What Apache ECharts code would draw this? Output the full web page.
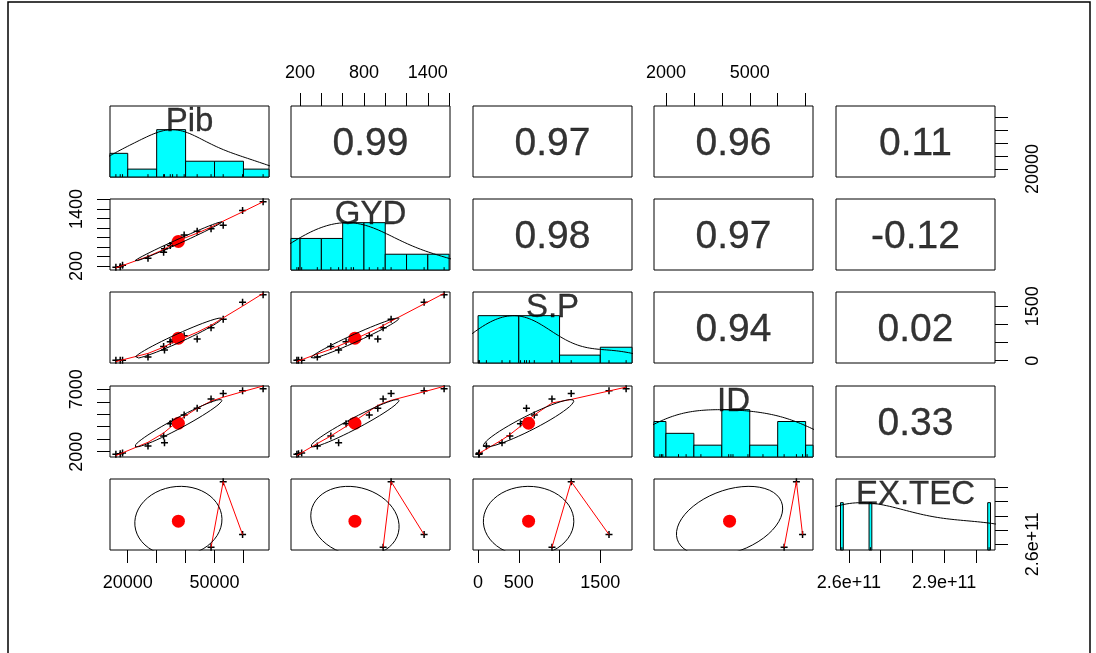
<!DOCTYPE html>
<html>
<head>
<meta charset="utf-8">
<script src="https://cdn.jsdelivr.net/npm/echarts@6/dist/echarts.min.js"></script>
<style>
  html, body { margin: 0; padding: 0; background: #fff; }
  #chart { width: 1096px; height: 653px; }
</style>
</head>
<body>
<div id="chart"></div>
<script>
// ---- data: one value per observation (null = missing) ----
const varNames = ['Pib', 'GYD', 'S.P', 'ID', 'EX.TEC'];
const pib   = [15900, 17400, 18200, 27000, 32400, 32700, 34700, 35500, 37000, 39500, 44000, 48800, 53000, 59700, 66800];
const gyd   = [170, 185, 215, 362, 489, 562, 632, 680, 702, 850, 930, 980, 1055, 1365, 1553];
const sp    = [10, 12, 15, 102, 390, 294, 520, 570, 630, 690, 594, 907, 1143, 1607, 1817];
const idv   = [1783, 1840, 1888, 2449, 3251, 2722, 4246, 4400, 4326, 4935, 5473, 6230, 6670, 6890, 7053];
const exTec = [null, null, null, null, null, null, null, null, null, null, null, 2.578e11, 3.042e11, 2.668e11, null];

// correlation labels for the upper panels, keyed "row-col"
const corrLabels = {
  '0-1': '0.99', '0-2': '0.97', '0-3': '0.96', '0-4': '0.11',
  '1-2': '0.98', '1-3': '0.97', '1-4': '-0.12',
  '2-3': '0.94', '2-4': '0.02',
  '3-4': '0.33'
};

// histogram bin edges (EX.TEC has few distinct values and is drawn as a table)
const pibBreaks = [10000, 20000, 30000, 40000, 50000, 60000, 70000];
const gydBreaks = [0, 200, 400, 600, 800, 1000, 1200, 1400, 1600];
const spBreaks  = [0, 500, 1000, 1500, 2000];
const idBreaks  = [1000, 2000, 3000, 4000, 5000, 6000, 7000, 8000];

// axis ticks and the labels printed on each side
const pibTicks = [20000, 30000, 40000, 50000, 60000];
const gydTicks = [200, 400, 600, 800, 1000, 1200, 1400, 1600];
const spTicks  = [0, 500, 1000, 1500];
const idTicks  = [2000, 3000, 4000, 5000, 6000, 7000];
const exTicks  = [2.6e11, 2.7e11, 2.8e11, 2.9e11, 3.0e11];
const pibLabels = { bottom: [20000, 50000], right: [20000] };
const gydLabels = { top: [200, 800, 1400], left: [200, 1400] };
const spLabels  = { bottom: [0, 500, 1500], right: [0, 1500] };
const idLabels  = { top: [2000, 5000], left: [2000, 7000] };
const exLabels  = { bottom: [2.6e11, 2.9e11], right: [2.6e11] };

// ---- layout ----
const FONT = '"Liberation Sans", Arial, Helvetica, sans-serif';
const colLeft = [110, 291, 473, 654, 836];
const rowTop = [106, 199, 292, 386, 479];
const panelW = 159, panelH = 71;
const labelMargin = { top: 24, bottom: 24, left: 24, right: 29 };

const vars = [pib, gyd, sp, idv, exTec];
const breaks = [pibBreaks, gydBreaks, spBreaks, idBreaks, null];
const tickVals = [pibTicks, gydTicks, spTicks, idTicks, exTicks];
const labelVals = [pibLabels, gydLabels, spLabels, idLabels, exLabels];
const fmt = [
  v => String(v), v => String(v), v => String(v), v => String(v),
  v => (v / 1e11).toFixed(1) + 'e+11'
];

// ---- statistics helpers ----
const valid = a => a.filter(v => v != null);
const mean = a => a.reduce((s, v) => s + v, 0) / a.length;
const sdev = a => { const m = mean(a); return Math.sqrt(a.reduce((s, v) => s + (v - m) * (v - m), 0) / (a.length - 1)); };
function pairsOf(xa, ya) {
  const out = [];
  xa.forEach((v, i) => { if (v != null && ya[i] != null) out.push([v, ya[i]]); });
  return out;
}
function corr(p) {
  const mx = mean(p.map(d => d[0])), my = mean(p.map(d => d[1]));
  let sxy = 0, sxx = 0, syy = 0;
  p.forEach(([a, b]) => { sxy += (a - mx) * (b - my); sxx += (a - mx) ** 2; syy += (b - my) ** 2; });
  return sxy / Math.sqrt(sxx * syy);
}
function quantile7(s, p) {
  const h = (s.length - 1) * p, lo = Math.floor(h);
  const hi = Math.min(lo + 1, s.length - 1);
  return s[lo] + (h - lo) * (s[hi] - s[lo]);
}
// gaussian kernel density, bw = nrd * 1.2, scaled so the peak is 1
function densityCurve(vals) {
  const n = vals.length, s = [...vals].sort((a, b) => a - b);
  const iqr = (quantile7(s, 0.75) - quantile7(s, 0.25)) / 1.34;
  const bw = 1.06 * Math.min(sdev(s), iqr) * Math.pow(n, -0.2) * 1.2;
  const lo = s[0] - 3 * bw, hi = s[n - 1] + 3 * bw, m = 512;
  const pts = [];
  for (let k = 0; k < m; k++) {
    const x = lo + (hi - lo) * k / (m - 1);
    let d = 0;
    s.forEach(v => { const z = (x - v) / bw; d += Math.exp(-0.5 * z * z); });
    pts.push([x, d]);
  }
  const mx = Math.max(...pts.map(p => p[1]));
  return pts.map(p => [p[0], p[1] / mx]);
}
// robust locally weighted regression (Cleveland's lowess)
function lowess(p, f = 2 / 3, nsteps = 3) {
  const srt = [...p].sort((a, b) => a[0] - b[0]);
  const n = srt.length;
  const x = [0], y = [0];
  srt.forEach(d => { x.push(d[0]); y.push(d[1]); });
  if (n < 2) return [[x[1], y[1]]];
  const ys = new Array(n + 1).fill(0), rw = new Array(n + 1).fill(1), w = new Array(n + 1).fill(0);
  const delta = 0.01 * (x[n] - x[1]);
  const ns = Math.max(2, Math.min(n, Math.floor(f * n + 1e-7)));
  function lowest(xs, nleft, nright, userw) {
    const range = x[n] - x[1];
    const h = Math.max(xs - x[nleft], x[nright] - xs);
    const h9 = 0.999 * h, h1 = 0.001 * h;
    let a = 0, j = nleft;
    while (j <= n) {
      w[j] = 0;
      const r = Math.abs(x[j] - xs);
      if (r <= h9) {
        w[j] = r <= h1 ? 1 : Math.pow(1 - Math.pow(r / h, 3), 3);
        if (userw) w[j] *= rw[j];
        a += w[j];
      } else if (x[j] > xs) break;
      j++;
    }
    const nrt = j - 1;
    if (a <= 0) return null;
    for (j = nleft; j <= nrt; j++) w[j] /= a;
    if (h > 0) {
      a = 0;
      for (j = nleft; j <= nrt; j++) a += w[j] * x[j];
      let b = xs - a, c = 0;
      for (j = nleft; j <= nrt; j++) c += w[j] * (x[j] - a) * (x[j] - a);
      if (Math.sqrt(c) > 0.001 * range) {
        b /= c;
        for (j = nleft; j <= nrt; j++) w[j] *= (b * (x[j] - a) + 1);
      }
    }
    let out = 0;
    for (j = nleft; j <= nrt; j++) out += w[j] * y[j];
    return out;
  }
  let iter = 1;
  while (iter <= nsteps + 1) {
    let nleft = 1, nright = ns, last = 0, i = 1;
    for (;;) {
      if (nright < n) {
        const d1 = x[i] - x[nleft], d2 = x[nright + 1] - x[i];
        if (d1 > d2) { nleft++; nright++; continue; }
      }
      const v = lowest(x[i], nleft, nright, iter > 1);
      ys[i] = v === null ? y[i] : v;
      if (last < i - 1) {
        const denom = x[i] - x[last];
        for (let j = last + 1; j < i; j++) {
          const alpha = (x[j] - x[last]) / denom;
          ys[j] = alpha * ys[i] + (1 - alpha) * ys[last];
        }
      }
      last = i;
      const cut = x[last] + delta;
      for (i = last + 1; i <= n; i++) {
        if (x[i] > cut) break;
        if (x[i] === x[last]) { ys[i] = ys[last]; last = i; }
      }
      i = Math.max(last + 1, i - 1);
      if (last >= n) break;
    }
    const resid = [];
    for (let k = 1; k <= n; k++) resid.push(y[k] - ys[k]);
    const sc = resid.reduce((s, r) => s + Math.abs(r), 0) / n;
    if (iter > nsteps) break;
    const sorted = resid.map(Math.abs).sort((a, b) => a - b);
    const m1 = Math.floor(n / 2);
    const cmad = n % 2 === 0 ? 3 * (sorted[m1] + sorted[n - m1 - 1]) : 6 * sorted[m1];
    if (cmad < 1e-7 * sc) break;
    const c9 = 0.999 * cmad, c1 = 0.001 * cmad;
    for (let k = 0; k < n; k++) {
      const r = Math.abs(resid[k]);
      rw[k + 1] = r <= c1 ? 1 : (r <= c9 ? Math.pow(1 - Math.pow(r / cmad, 2), 2) : 0);
    }
    iter++;
  }
  return x.slice(1).map((xv, k) => [xv, ys[k + 1]]);
}
// correlation ellipse around the means, one sd wide
function ellipse(xm, ym, xs, ys, r) {
  const t = r !== 0 ? Math.sign(r) / Math.SQRT2 : 1 / Math.SQRT2;
  const a = Math.sqrt(1 + r), b = Math.sqrt(1 - r);
  const pts = [], seg = 51;
  for (let k = 0; k <= seg; k++) {
    const ang = k * 2 * Math.PI / seg, c = Math.cos(ang), s = Math.sin(ang);
    pts.push([(c * a * t - s * b * t) * xs + xm, (c * a * t + s * b * t) * ys + ym]);
  }
  return pts;
}
// plotting range: data range widened by 4% on each side
const usr = vars.map(v => {
  const a = valid(v), mn = Math.min(...a), mx = Math.max(...a), r = mx - mn;
  return [mn - 0.04 * r, mx + 0.04 * r];
});

// ---- build the option ----
const grids = [], xAxes = [], yAxes = [], series = [];
const histY = [];
const plusSymbol = 'path://M0,2.75h7v1.5h-7zM2.75,0h1.5v7h-1.5z';

function axisCfg(k, v, side, horizontal) {
  const base = {
    gridIndex: k, type: 'value', min: usr[v][0], max: usr[v][1],
    splitLine: { show: false }, axisLine: { show: false }
  };
  if (!side) return Object.assign(base, { show: false });
  return Object.assign(base, {
    position: side,
    axisTick: { show: true, inside: false, length: 13, customValues: tickVals[v], lineStyle: { color: '#000', width: 1 } },
    axisLabel: {
      show: true, customValues: labelVals[v][side], formatter: fmt[v],
      fontSize: 18, fontFamily: FONT, color: '#000', margin: labelMargin[side],
      rotate: horizontal ? 0 : 90
    }
  });
}

for (let i = 0; i < 5; i++) {
  for (let j = 0; j < 5; j++) {
    const k = i * 5 + j;
    grids.push({
      left: colLeft[j], top: rowTop[i], width: panelW, height: panelH,
      show: true, borderColor: '#000', borderWidth: 1, backgroundColor: 'transparent'
    });
    let xSide = null, ySide = null;
    if (i === 0 && j % 2 === 1) xSide = 'top';
    if (i === 4 && j % 2 === 0) xSide = 'bottom';
    if (j === 4 && i % 2 === 0) ySide = 'right';
    if (j === 0 && i % 2 === 1) ySide = 'left';
    xAxes.push(axisCfg(k, j, xSide, true));
    yAxes.push(axisCfg(k, i, ySide, false));
  }
}
// extra vertical axes (0..1.5) for the histograms on the diagonal
for (let d = 0; d < 5; d++) {
  yAxes.push({ gridIndex: d * 6, type: 'value', min: 0, max: 1.5, show: false });
  histY.push(25 + d);
}

const histRender = (params, api) => {
  const p0 = api.coord([api.value(0), 0]);
  const p1 = api.coord([api.value(1), api.value(2)]);
  const cs = params.coordSys;
  const r = echarts.graphic.clipRectByRect(
    { x: p0[0], y: p1[1], width: p1[0] - p0[0], height: p0[1] - p1[1] },
    { x: cs.x, y: cs.y, width: cs.width, height: cs.height }
  );
  if (!r) return null;
  return { type: 'rect', shape: r, style: { fill: '#00FFFF', stroke: '#000', lineWidth: 1 } };
};
const rugRender = (params, api) => {
  const a = api.coord([api.value(0), 0]);
  const b = api.coord([api.value(0), 0.06]);
  return { type: 'line', shape: { x1: a[0], y1: a[1], x2: b[0], y2: b[1] }, style: { stroke: '#000', lineWidth: 1 } };
};

const textStyle = (size) => ({ fontSize: size, fontFamily: FONT, color: '#000', textBorderColor: '#000', textBorderWidth: 0.3 });

for (let i = 0; i < 5; i++) {
  for (let j = 0; j < 5; j++) {
    const k = i * 5 + j;
    if (i === j) {
      const vals = valid(vars[i]);
      let bars = [];
      if (breaks[i]) {
        const br = breaks[i], counts = new Array(br.length - 1).fill(0);
        vals.forEach(v => {
          for (let b = 0; b < br.length - 1; b++) {
            if ((v > br[b] || (b === 0 && v >= br[b])) && v <= br[b + 1]) { counts[b]++; break; }
          }
        });
        const mx = Math.max(...counts);
        bars = counts.map((c, b) => [br[b], br[b + 1], c / mx]);
      } else {
        const tab = {};
        vals.forEach(v => { tab[v] = (tab[v] || 0) + 1; });
        const keys = Object.keys(tab).map(Number).sort((a, b) => a - b);
        const mx = Math.max(...Object.values(tab));
        let md = Infinity;
        for (let q = 1; q < keys.length; q++) md = Math.min(md, keys[q] - keys[q - 1]);
        const ib = md * (keys.length - 1) / 41;
        bars = keys.map(v => [v - ib, v + ib, tab[v] / mx]);
      }
      series.push({
        type: 'custom', xAxisIndex: k, yAxisIndex: histY[i], renderItem: histRender,
        encode: { x: [0, 1], y: 2 }, data: bars, silent: true, z: 2
      });
      series.push({
        type: 'line', xAxisIndex: k, yAxisIndex: histY[i], data: densityCurve(vals),
        showSymbol: false, lineStyle: { color: '#000', width: 1 }, silent: true, clip: true, z: 3
      });
      series.push({
        type: 'custom', xAxisIndex: k, yAxisIndex: histY[i], renderItem: rugRender,
        encode: { x: 0 }, data: vals.map(v => [v]), silent: true, z: 3
      });
      series.push({
        type: 'scatter', xAxisIndex: k, yAxisIndex: histY[i], symbolSize: 0, silent: true, z: 5,
        data: [[(usr[i][0] + usr[i][1]) / 2, 1.2]],
        label: Object.assign({ show: true, position: 'inside', formatter: varNames[i], offset: [0, 2] }, textStyle(33))
      });
    } else if (i < j) {
      series.push({
        type: 'scatter', xAxisIndex: k, yAxisIndex: k, symbolSize: 0, silent: true,
        data: [[(usr[j][0] + usr[j][1]) / 2, (usr[i][0] + usr[i][1]) / 2]],
        label: Object.assign({ show: true, position: 'inside', formatter: corrLabels[i + '-' + j], offset: [0, 3] }, textStyle(39))
      });
    } else {
      const xs = vars[j], ysv = vars[i];
      const p = pairsOf(xs, ysv);
      series.push({
        type: 'scatter', xAxisIndex: k, yAxisIndex: k, data: p, symbol: plusSymbol, symbolSize: 7,
        itemStyle: { color: '#000', opacity: 1 }, silent: true, z: 2
      });
      series.push({
        type: 'line', xAxisIndex: k, yAxisIndex: k, data: lowess(p), showSymbol: false,
        lineStyle: { color: '#FF0000', width: 1 }, silent: true, clip: true, z: 3
      });
      const xa = valid(xs), ya = valid(ysv);
      const xm = mean(xa), ym = mean(ya);
      series.push({
        type: 'scatter', xAxisIndex: k, yAxisIndex: k, data: [[xm, ym]], symbol: 'circle', symbolSize: 13,
        itemStyle: { color: '#FF0000', opacity: 1 }, silent: true, z: 4
      });
      series.push({
        type: 'line', xAxisIndex: k, yAxisIndex: k, data: ellipse(xm, ym, sdev(xa), sdev(ya), corr(p)),
        showSymbol: false, lineStyle: { color: '#000', width: 1 }, silent: true, clip: true, z: 5
      });
    }
  }
}

const chart = echarts.init(document.getElementById('chart'), null, { renderer: 'canvas' });
chart.setOption({
  animation: false,
  backgroundColor: '#ffffff',
  grid: grids,
  xAxis: xAxes,
  yAxis: yAxes,
  series: series,
  graphic: [{
    type: 'rect', silent: true, z: 100,
    shape: { x: 8, y: 2, width: 1082, height: 680 },
    style: { fill: 'none', stroke: '#000', lineWidth: 1.5 }
  }]
});
</script>
</body>
</html>
